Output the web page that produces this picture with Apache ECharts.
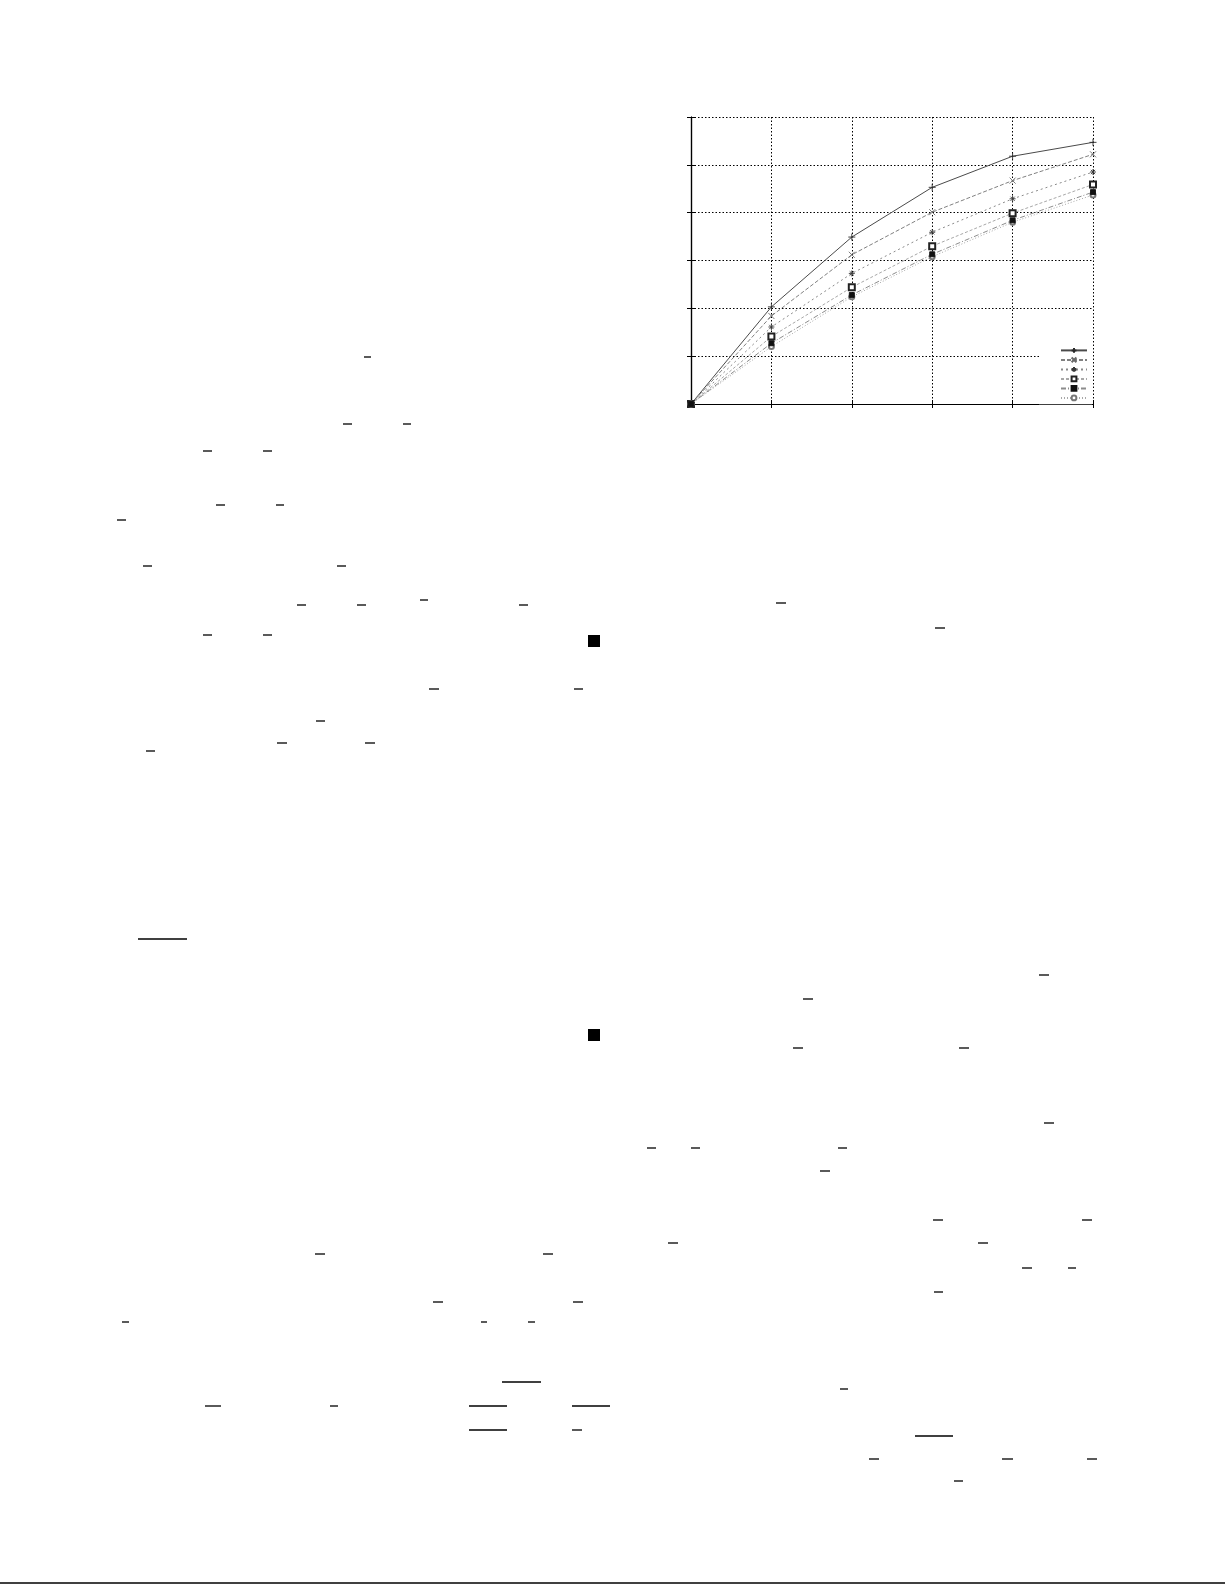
<!DOCTYPE html>
<html>
<head>
<meta charset="utf-8">
<script src="https://cdn.jsdelivr.net/npm/echarts@6/dist/echarts.min.js"></script>
<style>
html,body{margin:0;padding:0;background:#fff;}
#chart{width:1225px;height:1585px;}
</style>
</head>
<body>
<div id="chart"></div>
<script>
// ---- data ----
const xValues = [0, 1, 2, 3, 4, 5];
const seriesNames = ['s1', 's2', 's3', 's4', 's5', 's6'];
const s1 = [0, 2.03, 3.49, 4.53, 5.18, 5.47];
const s2 = [0, 1.84, 3.12, 4.01, 4.67, 5.22];
const s3 = [0, 1.61, 2.73, 3.59, 4.29, 4.85];
const s4 = [0, 1.41, 2.44, 3.30, 3.99, 4.59];
const s5 = [0, 1.27, 2.28, 3.13, 3.84, 4.43];
const s6 = [0, 1.20, 2.24, 3.08, 3.80, 4.37];
const xTicks = [0, 1, 2, 3, 4, 5];
const yTicks = [0, 1, 2, 3, 4, 5, 6];

// ---- page decoration (remnants of the surrounding printed page) ----
const overlines = [
  [364,371,357],[343,352,424],[403,411,424],[203,212,451],[263,272,451],
  [216,225,505],[276,284,505],[117,126,520],[143,152,566],[337,346,566],
  [297,306,605],[357,366,605],[420,428,600],[519,528,605],[203,212,635],[263,272,635],
  [429,439,689],[574,583,689],[316,325,721],[277,287,743],[365,375,743],[146,155,751],
  [138,187,939],[315,325,1254],[543,553,1254],[433,443,1302],[573,583,1302],
  [122,129,1322],[481,487,1322],[528,535,1322],[502,541,1382],
  [205,221,1406],[330,338,1406],[469,507,1406],[572,610,1406],[469,507,1430],[572,582,1430],
  [776,786,603],[935,945,628],[1039,1049,975],[803,813,999],[793,803,1048],[959,969,1048],
  [1044,1054,1123],[647,656,1148],[691,700,1148],[838,847,1148],[820,830,1171],
  [933,943,1220],[1082,1092,1220],[668,678,1243],[978,988,1243],[1022,1032,1268],
  [1068,1076,1268],[934,943,1292],[840,848,1389],[915,953,1436],[869,879,1459],
  [1002,1013,1459],[1087,1097,1459],[954,963,1481]
];
const qedBoxes = [[588,635],[588,1029]];

const values = [s1, s2, s3, s4, s5, s6];
const lineColors = ['#4a4a4a', '#808080', '#8a8a8a', '#a8a8a8', '#8c8c8c', '#a8a8a8'];
const markColors = ['#2a2a2a', '#6a6a6a', '#3a3a3a', '#222', '#111', '#777'];
const dashes = ['solid', [4, 2], [2, 3], [3, 2], [5, 2, 1, 2], [1, 2]];
const symbols = [
  'path://M0,5H10M5,0V10',
  'path://M1,1L9,9M9,1L1,9',
  'path://M0,5H10M5,0V10M1.5,1.5L8.5,8.5M8.5,1.5L1.5,8.5',
  'emptyRect', 'rect', 'emptyCircle'
];
const symSizes = [7, 6, 6, 6, 5, 5];
const zOrder = [3, 4, 5, 6, 9, 7];

const series = values.map((v, i) => ({
  name: seriesNames[i],
  type: 'line',
  data: xValues.map((x, j) => [x, v[j]]),
  symbol: symbols[i],
  symbolSize: symSizes[i],
  showAllSymbol: true,
  lineStyle: { color: lineColors[i], width: 1, type: dashes[i] },
  itemStyle: { color: markColors[i], borderColor: markColors[i], borderWidth: 0.9 },
  emphasis: { disabled: true },
  z: zOrder[i]
}));

const gridLine = { show: true, lineStyle: { color: '#000', width: 1, type: [1.5, 2] } };
const tick = { show: true, inside: true, length: 4, lineStyle: { color: '#000' } };
const axLine = { show: true, lineStyle: { color: '#000', width: 1.2 } };

const graphics = [];
overlines.forEach(o => graphics.push({
  type: 'line', silent: true,
  shape: { x1: o[0], y1: o[2], x2: o[1], y2: o[2] },
  style: { stroke: '#000', lineWidth: 1.3 }
}));
qedBoxes.forEach(b => graphics.push({
  type: 'rect', silent: true,
  shape: { x: b[0], y: b[1], width: 12, height: 12 },
  style: { fill: '#000' }
}));
graphics.push({
  type: 'line', silent: true,
  shape: { x1: 0, y1: 1583, x2: 1225, y2: 1583 },
  style: { stroke: '#000', lineWidth: 1.5 }
});

const chart = echarts.init(document.getElementById('chart'), null, { renderer: 'canvas' });
chart.setOption({
  animation: false,
  backgroundColor: '#fff',
  grid: { left: 691, top: 117, right: 132, bottom: 1181, containLabel: false },
  xAxis: [
    { type: 'value', min: xTicks[0], max: xTicks[xTicks.length - 1], interval: 1,
      axisLine: axLine, axisTick: tick, axisLabel: { show: false }, splitLine: gridLine },
    { type: 'value', position: 'top', min: xTicks[0], max: xTicks[xTicks.length - 1], interval: 1,
      axisLine: axLine, axisTick: tick, axisLabel: { show: false }, splitLine: { show: false } }
  ],
  yAxis: [
    { type: 'value', min: yTicks[0], max: yTicks[yTicks.length - 1], interval: 1,
      axisLine: axLine, axisTick: tick, axisLabel: { show: false }, splitLine: gridLine },
    { type: 'value', position: 'right', min: yTicks[0], max: yTicks[yTicks.length - 1], interval: 1,
      axisLine: axLine, axisTick: tick, axisLabel: { show: false }, splitLine: { show: false } }
  ],
  legend: {
    orient: 'vertical',
    right: 133,
    top: 343,
    itemWidth: 26,
    itemHeight: 6,
    itemGap: 2.7,
    padding: [4, 4, 3, 21],
    backgroundColor: '#fff',
    formatter: () => '',
    textStyle: { fontSize: 1 },
    selectedMode: false,
    data: seriesNames
  },
  graphic: graphics,
  series: series
});
</script>
</body>
</html>
